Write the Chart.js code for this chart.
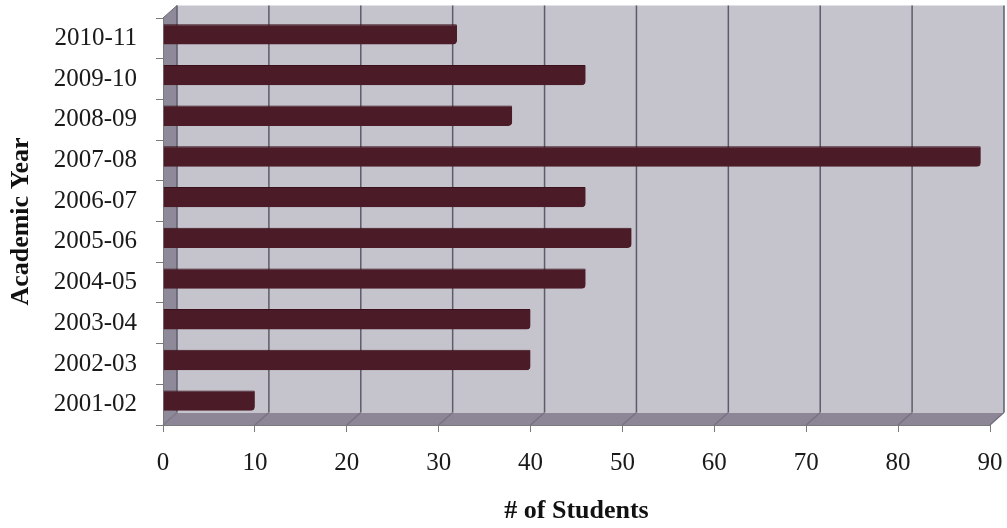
<!DOCTYPE html>
<html>
<head>
<meta charset="utf-8">
<script src="https://cdn.jsdelivr.net/npm/chart.js@4/dist/chart.umd.min.js"></script>
<style>
  html, body { margin: 0; padding: 0; background: #fff; }
  #wrap { width: 1007px; height: 528px; }
</style>
</head>
<body>
<div id="wrap"><canvas id="chart"></canvas></div>
<script>
const years = ['2001-02', '2002-03', '2003-04', '2004-05', '2005-06',
  '2006-07', '2007-08', '2008-09', '2009-10', '2010-11'];
const students = [10, 40, 40, 46, 51, 46, 89, 38, 46, 32];
const xTicks = [0, 10, 20, 30, 40, 50, 60, 70, 80, 90];

// 3d depth of the walls (px)
const DX = 14;
const DY = 12.5;
const BAR_LIFT = 4;

function poly(ctx, pts) {
  ctx.beginPath();
  ctx.moveTo(pts[0][0], pts[0][1]);
  pts.slice(1).forEach(p => ctx.lineTo(p[0], p[1]));
  ctx.closePath();
  ctx.fill();
}

function line(ctx, x1, y1, x2, y2) {
  ctx.beginPath();
  ctx.moveTo(x1, y1);
  ctx.lineTo(x2, y2);
  ctx.stroke();
}

const wallPlugin = {
  id: 'walls',
  beforeDraw(chart) {
    const { ctx, chartArea: a } = chart;
    const x = chart.scales.x;
    ctx.save();
    ctx.fillStyle = '#fff';
    ctx.fillRect(0, 0, chart.width, chart.height);

    // left side wall
    ctx.fillStyle = '#8e8a99';
    poly(ctx, [[a.left, a.top], [a.left + DX, a.top - DY], [a.left + DX, a.bottom - DY], [a.left, a.bottom]]);
    // floor
    ctx.fillStyle = '#8d8696';
    poly(ctx, [[a.left, a.bottom], [a.left + DX, a.bottom - DY], [a.right + DX, a.bottom - DY], [a.right, a.bottom]]);
    // back wall
    ctx.fillStyle = '#c5c3cc';
    ctx.fillRect(a.left + DX, a.top - DY, a.right - a.left, a.bottom - a.top);

    // grid lines on the back wall + faint joins across the floor
    ctx.lineWidth = 1.5;
    xTicks.forEach(v => {
      const px = x.getPixelForValue(v);
      ctx.strokeStyle = '#5e5b6c';
      line(ctx, px + DX, a.top - DY, px + DX, a.bottom - DY);
      ctx.strokeStyle = 'rgba(110,100,120,0.6)';
      line(ctx, px + DX, a.bottom - DY, px, a.bottom);
    });
    ctx.strokeStyle = '#6c6878';
    ctx.lineWidth = 1;
    line(ctx, a.left, a.top, a.left + DX, a.top - DY);
    line(ctx, a.right, a.bottom, a.right + DX, a.bottom - DY);
    ctx.restore();
  },
  beforeDatasetsDraw(chart) {
    chart.ctx.save();
    chart.ctx.translate(0, -BAR_LIFT);
  },
  afterDatasetsDraw(chart) {
    chart.ctx.restore();
  }
};

const serif = "'Liberation Serif', 'Times New Roman', serif";

new Chart(document.getElementById('chart'), {
  type: 'bar',
  data: {
    labels: years,
    datasets: [{
      data: students,
      backgroundColor: '#4b1c27',
      borderColor: '#3a111b',
      borderWidth: { top: 1, right: 0, bottom: 0, left: 0 },
      borderSkipped: 'start',
      borderRadius: { topRight: 1, bottomRight: 4 },
      barPercentage: 0.5,
      categoryPercentage: 1
    }]
  },
  options: {
    indexAxis: 'y',
    responsive: true,
    maintainAspectRatio: false,
    animation: false,
    layout: { padding: { top: 18, right: 17, left: 0, bottom: 0 } },
    plugins: {
      legend: { display: false },
      tooltip: { enabled: false }
    },
    scales: {
      x: {
        type: 'linear',
        min: 0,
        max: 90,
        afterBuildTicks: s => { s.ticks = xTicks.map(v => ({ value: v })); },
        afterFit: s => {
          s.height = 103;
          s.paddingLeft = 0;
          s.paddingRight = 0;
        },
        grid: { drawOnChartArea: false, tickLength: 7, color: '#7a7a7a' },
        border: { color: '#7a7a7a' },
        ticks: { font: { family: serif, size: 25 }, color: '#1a1a1a', padding: 16 },
        title: {
          display: true,
          text: '# of Students',
          font: { family: serif, size: 26, weight: 'bold' },
          color: '#111',
          padding: { top: 0, bottom: 1 }
        }
      },
      y: {
        type: 'category',
        reverse: true,
        afterFit: s => {
          s.width = 163;
          s.paddingTop = 0;
          s.paddingBottom = 0;
        },
        grid: { drawOnChartArea: false, offset: true, tickLength: 7, color: '#7a7a7a' },
        border: { color: '#7a7a7a' },
        ticks: { font: { family: serif, size: 25 }, color: '#1a1a1a', padding: 19 },
        title: {
          display: true,
          text: 'Academic Year',
          font: { family: serif, size: 26, weight: 'bold' },
          color: '#111',
          padding: { top: 6, bottom: 0 }
        }
      }
    }
  },
  plugins: [wallPlugin]
});
</script>
</body>
</html>
